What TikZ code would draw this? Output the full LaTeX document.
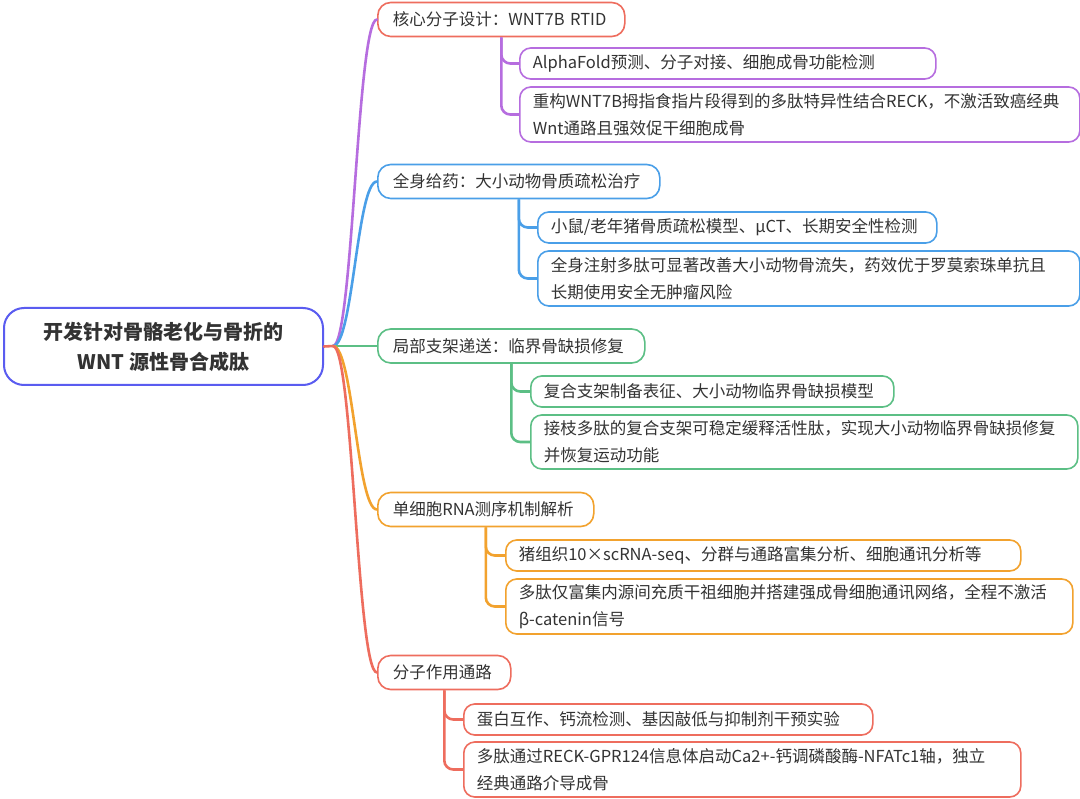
\documentclass[tikz,border=0pt]{standalone}
\usepackage{fontspec}
\setmainfont{Noto Sans CJK SC}
\usetikzlibrary{positioning}

\definecolor{mmroot}{HTML}{5A5CF0}
\definecolor{mmpurple}{HTML}{B66DDF}
\definecolor{mmblue}{HTML}{4A9FE8}
\definecolor{mmgreen}{HTML}{5CBF85}
\definecolor{mmorange}{HTML}{F2A22E}
\definecolor{mmred}{HTML}{EE6D5E}
\definecolor{mmtext}{HTML}{333333}

\tikzset{
  topic/.style={draw=mmroot, line width=2pt, rounded corners=20pt, align=center,
    text=mmtext, font=\fontsize{20}{30}\selectfont\bfseries,
    minimum width=319pt, minimum height=77pt, anchor=west},
  branch/.style={line width=1.6pt, rounded corners=13pt, text=mmtext, align=left,
    font=\fontsize{16.5}{27}\selectfont, minimum height=34pt, inner xsep=15pt, anchor=west},
  leaf/.style={line width=1.6pt, rounded corners=11pt, text=mmtext, align=left,
    font=\fontsize{16.5}{27}\selectfont, minimum height=31pt, inner xsep=13pt, anchor=west},
  link/.style={line width=2.6pt, line cap=round},
  sublink/.style={line width=2.6pt, rounded corners=9pt}
}

\begin{document}
\begin{tikzpicture}[x=1pt,y=-1pt]
  \fill[white] (0,0) rectangle (1080,799);
  \useasboundingbox (0,0) rectangle (1080,799);

  % central topic
  \node[topic] (root) at (3,346.5) {开发针对骨骼老化与骨折的\\WNT 源性骨合成肽};
  \coordinate (hub) at (333,346);

  % main branches
  \node[branch, draw=mmred, text width=217pt] (design) at (377,19.5) {核心分子设计：WNT7B~RTID};
  \node[branch, draw=mmblue, text width=252pt] (system) at (377,181.5) {全身给药：大小动物骨质疏松治疗};
  \node[branch, draw=mmgreen, text width=237pt] (local) at (377,346) {局部支架递送：临界骨缺损修复};
  \node[branch, draw=mmorange, text width=186pt] (seq) at (377,509.5) {单细胞RNA测序机制解析};
  \node[branch, draw=mmred, text width=103pt] (path) at (377,672.5) {分子作用通路};

  % leaves
  \node[leaf, draw=mmpurple, text width=390pt, minimum height=31pt] (design1) at (519,63.5) {AlphaFold预测、分子对接、细胞成骨功能检测};
  \node[leaf, draw=mmpurple, text width=534pt, minimum height=55pt] (design2) at (519,114.5) {重构WNT7B拇指食指片段得到的多肽特异性结合RECK，不激活致癌经典\\Wnt通路且强效促干细胞成骨};
  \node[leaf, draw=mmblue, text width=373pt] (system1) at (537,227.5) {小鼠/老年猪骨质疏松模型、μCT、长期安全性检测};
  \node[leaf, draw=mmblue, text width=516pt, minimum height=55pt] (system2) at (537,278.5) {全身注射多肽可显著改善大小动物骨流失，药效优于罗莫索珠单抗且\\长期使用安全无肿瘤风险};
  \node[leaf, draw=mmgreen, text width=337pt] (local1) at (530,391.5) {复合支架制备表征、大小动物临界骨缺损模型};
  \node[leaf, draw=mmgreen, text width=521pt, minimum height=54pt] (local2) at (530,442) {接枝多肽的复合支架可稳定缓释活性肽，实现大小动物临界骨缺损修复\\并恢复运动功能};
  \node[leaf, draw=mmorange, text width=489pt] (seq1) at (505,555.5) {猪组织10×scRNA-seq、分群与通路富集分析、细胞通讯分析等};
  \node[leaf, draw=mmorange, text width=541pt, minimum height=55pt] (seq2) at (505,606.5) {多肽仅富集内源间充质干祖细胞并搭建强成骨细胞通讯网络，全程不激活\\β-catenin信号};
  \node[leaf, draw=mmred, text width=383pt] (path1) at (463,719.5) {蛋白互作、钙流检测、基因敲低与抑制剂干预实验};
  \node[leaf, draw=mmred, text width=531pt, minimum height=55pt] (path2) at (463,769.5) {多肽通过RECK-GPR124信息体启动Ca2+-钙调磷酸酶-NFATc1轴，独立\\经典通路介导成骨};

  % root to branches
  \draw[link, mmred] (root.east) -- (hub);
  \draw[link, mmpurple] (hub) .. controls +(20,0) and +(-20,0) .. (design.west);
  \draw[link, mmblue] (hub) .. controls +(20,0) and +(-20,0) .. (system.west);
  \draw[link, mmgreen] (hub) -- (local.west);
  \draw[link, mmorange] (hub) .. controls +(20,0) and +(-20,0) .. (seq.west);
  \draw[link, mmred] (hub) .. controls +(20,0) and +(-20,0) .. (path.west);

  % branches to leaves
  \draw[sublink, mmpurple] (design.south) |- (design1.west);
  \draw[sublink, mmpurple] (design.south) |- (design2.west);
  \draw[sublink, mmblue] (system.south) |- (system1.west);
  \draw[sublink, mmblue] (system.south) |- (system2.west);
  \draw[sublink, mmgreen] (local.south) |- (local1.west);
  \draw[sublink, mmgreen] (local.south) |- (local2.west);
  \draw[sublink, mmorange] (seq.south) |- (seq1.west);
  \draw[sublink, mmorange] (seq.south) |- (seq2.west);
  \draw[sublink, mmred] (path.south) |- (path1.west);
  \draw[sublink, mmred] (path.south) |- (path2.west);
\end{tikzpicture}
\end{document}
